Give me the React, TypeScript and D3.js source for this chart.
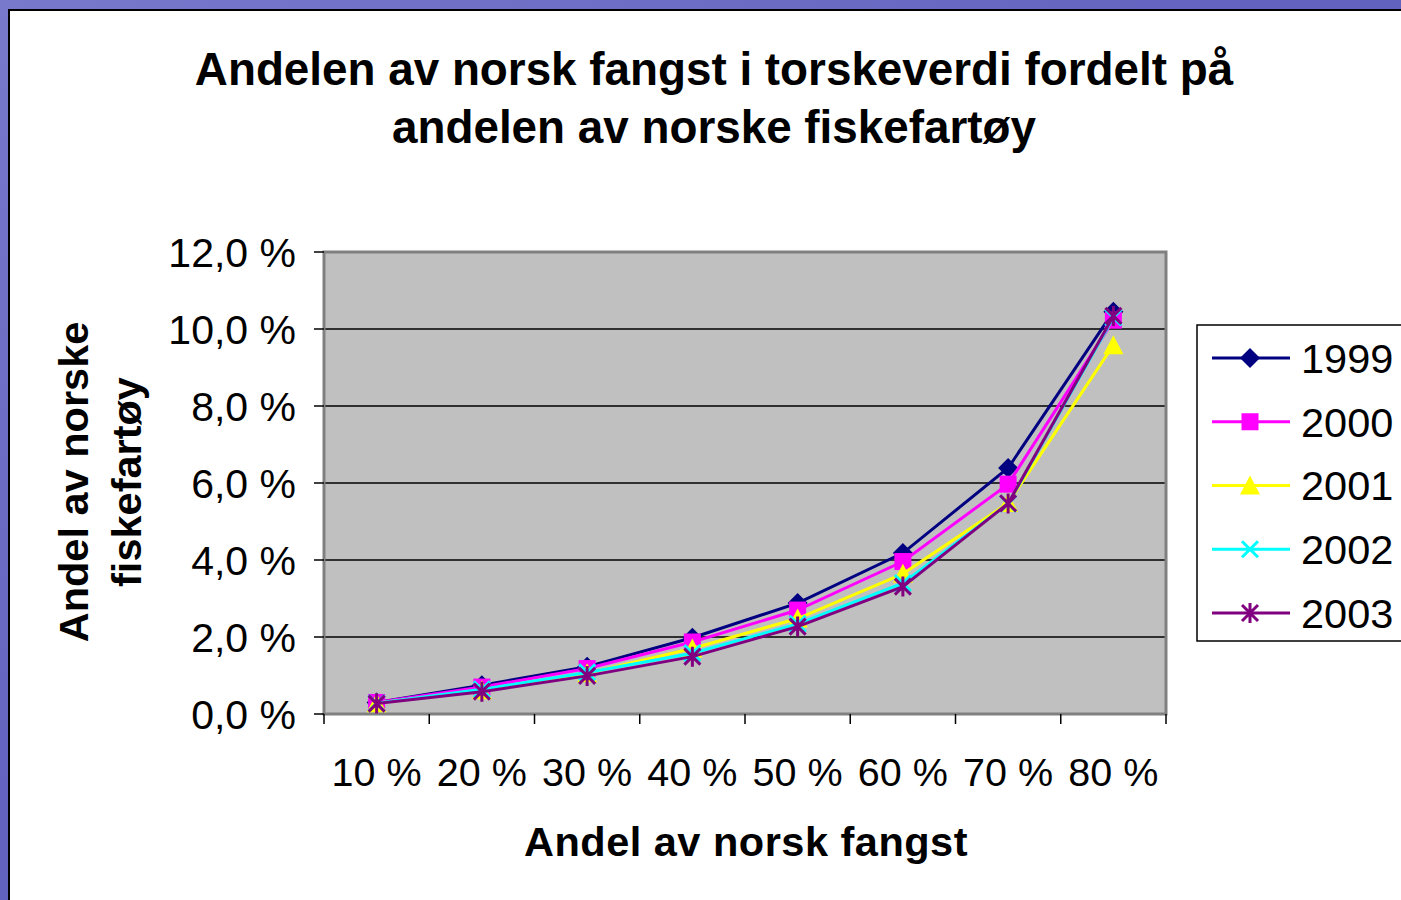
import * as d3 from 'd3';

// data
const categories = ['10 %', '20 %', '30 %', '40 %', '50 %', '60 %', '70 %', '80 %'];
const years = ['1999', '2000', '2001', '2002', '2003'];
const v1999 = [0.30, 0.75, 1.23, 1.98, 2.88, 4.18, 6.39, 10.45];
const v2000 = [0.30, 0.70, 1.18, 1.87, 2.70, 3.96, 5.97, 10.23];
const v2001 = [0.28, 0.62, 1.06, 1.70, 2.48, 3.64, 5.48, 9.58];
const v2002 = [0.28, 0.64, 1.08, 1.58, 2.34, 3.40, 5.46, 10.30];
const v2003 = [0.27, 0.58, 0.99, 1.49, 2.27, 3.31, 5.47, 10.34];
const yTicks = [0, 2, 4, 6, 8, 10, 12];

const seriesValues = [v1999, v2000, v2001, v2002, v2003];
const colors = ['#000080', '#ff00ff', '#ffff00', '#00ffff', '#800080'];
const shapes = ['diamond', 'square', 'triangle', 'x', 'star'];

const W = 1401, H = 900;
const plot = { left: 324, right: 1166, top: 252, bottom: 714 };
const FONT = 'Arial, "Liberation Sans", Helvetica, sans-serif';

const x = d3.scaleBand().domain(categories).range([plot.left, plot.right]).padding(0);
const y = d3.scaleLinear().domain([0, 12]).range([plot.bottom, plot.top]);
const fmt = (v: number) => v.toFixed(1).replace('.', ',') + ' %';

const Marker = ({ shape, cx, cy, color }: { shape: string; cx: number; cy: number; color: string }) => {
  if (shape === 'diamond') {
    return <path d={`M${cx},${cy - 10}L${cx + 10},${cy}L${cx},${cy + 10}L${cx - 10},${cy}Z`} fill={color} />;
  }
  if (shape === 'square') {
    return <rect x={cx - 8.5} y={cy - 8.5} width={17} height={17} fill={color} />;
  }
  if (shape === 'triangle') {
    return <path d={`M${cx},${cy - 10}L${cx + 10},${cy + 9}L${cx - 10},${cy + 9}Z`} fill={color} />;
  }
  if (shape === 'x') {
    return <path d={`M${cx - 8},${cy - 8}L${cx + 8},${cy + 8}M${cx + 8},${cy - 8}L${cx - 8},${cy + 8}`} stroke={color} strokeWidth={3} />;
  }
  return (
    <path
      d={`M${cx - 8},${cy - 8}L${cx + 8},${cy + 8}M${cx + 8},${cy - 8}L${cx - 8},${cy + 8}M${cx},${cy - 10}L${cx},${cy + 10}`}
      stroke={color}
      strokeWidth={3}
    />
  );
};

export default function App() {
  const line = d3
    .line<number>()
    .x((_, i) => x(categories[i])! + x.bandwidth() / 2)
    .y((d) => y(d));

  const legendY = d3.scalePoint().domain(years).range([358, 613]);

  return (
    <svg width={W} height={H} style={{ position: 'absolute', left: 0, top: 0 }} fontFamily={FONT}>
      <defs>
        <linearGradient id="bg" x1="0" y1="0" x2="1" y2="1">
          <stop offset="0" stopColor="#7878cc" />
          <stop offset="1" stopColor="#4a4ab0" />
        </linearGradient>
      </defs>
      <rect x={0} y={0} width={W} height={H} fill="url(#bg)" />
      <rect x={9} y={10} width={W} height={H} fill="#fff" stroke="#000" strokeWidth={2} />

      {/* title */}
      <text x={714} y={85} textAnchor="middle" fontSize={45.8} fontWeight="bold">
        Andelen av norsk fangst i torskeverdi fordelt på
      </text>
      <text x={714} y={143} textAnchor="middle" fontSize={45.8} fontWeight="bold">
        andelen av norske fiskefartøy
      </text>

      {/* plot area */}
      <rect x={plot.left} y={plot.top} width={plot.right - plot.left} height={plot.bottom - plot.top} fill="#c0c0c0" />
      {yTicks.slice(1, -1).map((t) => (
        <line key={t} x1={plot.left} x2={plot.right} y1={y(t)} y2={y(t)} stroke="#000" strokeWidth={1.5} />
      ))}
      <rect
        x={plot.left}
        y={plot.top}
        width={plot.right - plot.left}
        height={plot.bottom - plot.top}
        fill="none"
        stroke="#808080"
        strokeWidth={3}
      />

      {/* y axis */}
      {yTicks.map((t) => (
        <g key={t}>
          <line x1={plot.left - 10} x2={plot.left} y1={y(t)} y2={y(t)} stroke="#000" strokeWidth={1.5} />
          <text x={296} y={y(t)} dy="0.36em" textAnchor="end" fontSize={41}>
            {fmt(t)}
          </text>
        </g>
      ))}

      {/* x axis */}
      {categories.map((c, i) => (
        <g key={c}>
          <line x1={x(c)!} x2={x(c)!} y1={plot.bottom} y2={plot.bottom + 10} stroke="#000" strokeWidth={1.5} />
          {i === categories.length - 1 && (
            <line x1={plot.right} x2={plot.right} y1={plot.bottom} y2={plot.bottom + 10} stroke="#000" strokeWidth={1.5} />
          )}
          <text x={x(c)! + x.bandwidth() / 2} y={786} textAnchor="middle" fontSize={39.5}>
            {c}
          </text>
        </g>
      ))}

      {/* axis titles */}
      <text x={746} y={856} textAnchor="middle" fontSize={41.5} fontWeight="bold" letterSpacing={0.5}>
        Andel av norsk fangst
      </text>
      <g transform="translate(88,482) rotate(-90)">
        <text x={0} y={0} textAnchor="middle" fontSize={41.5} fontWeight="bold">
          Andel av norske
        </text>
        <text x={0} y={53} textAnchor="middle" fontSize={41.5} fontWeight="bold">
          fiskefartøy
        </text>
      </g>

      {/* series */}
      {seriesValues.map((vals, s) => (
        <g key={years[s]}>
          <path d={line(vals)!} fill="none" stroke={colors[s]} strokeWidth={3} />
          {vals.map((v, i) => (
            <Marker key={i} shape={shapes[s]} cx={x(categories[i])! + x.bandwidth() / 2} cy={y(v)} color={colors[s]} />
          ))}
        </g>
      ))}

      {/* legend */}
      <rect x={1197} y={325} width={220} height={316} fill="#fff" stroke="#000" strokeWidth={1.5} />
      {years.map((yr, s) => (
        <g key={yr}>
          <line x1={1212} x2={1290} y1={legendY(yr)!} y2={legendY(yr)!} stroke={colors[s]} strokeWidth={3} />
          <Marker shape={shapes[s]} cx={1250} cy={legendY(yr)!} color={colors[s]} />
          <text x={1301} y={legendY(yr)!} dy="0.36em" fontSize={41.5}>
            {yr}
          </text>
        </g>
      ))}
    </svg>
  );
}
